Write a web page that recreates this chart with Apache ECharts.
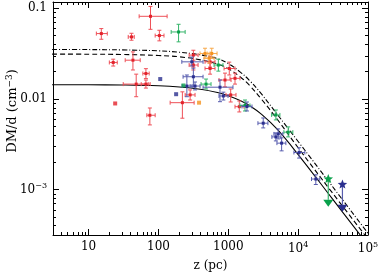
<!DOCTYPE html>
<html>
<head>
<meta charset="utf-8">
<script src="https://cdn.jsdelivr.net/npm/echarts@6/dist/echarts.min.js"></script>
<style>
html, body { margin: 0; padding: 0; background: #fff; }
#chart { width: 379px; height: 272px; }
</style>
</head>
<body>
<div id="chart"></div>
<script>
// rows: [z, zLo, zHi, dmd, dmdLo, dmdHi]  (z in pc, DM/d in cm^-3)
const redPts = [
    [15.2, 12.9, 18.5, 0.0527, 0.0456, 0.0598],
    [41.1, 36.9, 45.0, 0.0484, 0.0445, 0.0531],
    [76.9, 52.9, 133, 0.0817, 0.0587, 0.105],
    [103, 89.7, 120, 0.0501, 0.0438, 0.0573],
    [22.5, 19.8, 25.7, 0.0253, 0.0231, 0.0275],
    [43.1, 33.4, 54.8, 0.0268, 0.0209, 0.0331],
    [66.1, 59.8, 73.6, 0.0191, 0.0168, 0.0216],
    [48.0, 31.3, 71.3, 0.0146, 0.0106, 0.0188],
    [66.1, 56.6, 76.0, 0.0146, 0.0132, 0.0162],
    [220, 147, 324, 0.00911, 0.00614, 0.0120],
    [75.3, 68.2, 89.7, 0.00662, 0.00518, 0.00796],
    [284, 241, 334, 0.0111, 0.00975, 0.0126],
    [316, 275, 369, 0.0305, 0.0225, 0.0345],
    [316, 275, 369, 0.0237, 0.0209, 0.0268],
    [548, 464, 645, 0.0257, 0.0225, 0.0297],
    [548, 464, 645, 0.0217, 0.0188, 0.0249],
    [1033, 869, 1247, 0.0217, 0.0184, 0.0255],
    [897, 736, 1094, 0.0162, 0.0136, 0.0193],
    [1247, 1057, 1469, 0.0169, 0.0146, 0.0193],
    [1082, 927, 1288, 0.0111, 0.00927, 0.0129],
    [1436, 1247, 1675, 0.00823, 0.00720, 0.00951]
];
const orangePts = [
    [464, 394, 548, 0.0318, 0.0282, 0.0363],
    [579, 497, 690, 0.0318, 0.0282, 0.0363],
    [530, 450, 625, 0.0282, 0.0249, 0.0320]
];
const greenPts = [
    [194, 152, 241, 0.0549, 0.0427, 0.0667],
    [720, 625, 839, 0.0237, 0.0203, 0.0275],
    [480, 407, 566, 0.0146, 0.0129, 0.0166],
    [1733, 1469, 2042, 0.00849, 0.00738, 0.00975],
    [4797, 4169, 5480, 0.00667, 0.00588, 0.00757],
    [7197, 6247, 8395, 0.00431, 0.00382, 0.00492]
];
const bluePts = [
    [300, 216, 435, 0.0257, 0.0231, 0.0290],
    [316, 225, 435, 0.0176, 0.0136, 0.0219],
    [255, 218, 303, 0.0139, 0.0106, 0.0184],
    [334, 284, 394, 0.0139, 0.0126, 0.0154],
    [760, 435, 1166, 0.0135, 0.00934, 0.0162],
    [849, 736, 991, 0.0108, 0.00975, 0.0119],
    [1849, 1570, 2183, 0.00827, 0.00738, 0.00927],
    [3162, 2655, 3690, 0.00541, 0.00480, 0.00618],
    [5179, 4498, 6040, 0.00412, 0.00363, 0.00468],
    [5796, 4966, 6668, 0.00326, 0.00268, 0.00373],
    [4797, 4207, 5664, 0.00382, 0.00345, 0.00423],
    [10330, 8695, 12470, 0.00257, 0.00223, 0.00290],
    [17900, 15530, 20420, 0.00131, 0.00114, 0.00146]
];
// points without error bars: [z, dmd]
const redDots = [[24.0, 0.00893]];
const orangeDots = [[381, 0.00911]];
const greenDots = [[228, 0.0141]];
const blueDots = [[106, 0.0166], [179, 0.0113]];
// upper limits: [z, dmd star, dmd limit]
const greenLimits = [[26990, 0.00131, 0.000719]];
const blueLimits = [[43050, 0.00114, 0.000633]];

// model curves
const curveZ = [3, 10, 30, 100, 200, 400, 700, 1000, 1500, 2000, 3000, 5000, 10000, 30000, 100000];
const solidD = [0.01439, 0.01436, 0.01427, 0.01399, 0.01359, 0.01283, 0.01180, 0.01089, 0.00957, 0.00847, 0.00676, 0.00464, 0.00244, 0.000816, 0.000245];
const dashedD = [0.0313, 0.0312, 0.0310, 0.0302, 0.0292, 0.0270, 0.0243, 0.0216, 0.0174, 0.0142, 0.0099, 0.0060, 0.0029, 0.00095, 0.000285];
const dashDotD = [0.0352, 0.0351, 0.0348, 0.0340, 0.0328, 0.0307, 0.0279, 0.0246, 0.0197, 0.0161, 0.0113, 0.0068, 0.0034, 0.00112, 0.000330];

const xTickLabels = {1: '10', 2: '100', 3: '1000', 4: '10{s|4}', 5: '10{s|5}'};
const yTickLabels = {'-1': '0.1', '-2': '0.01', '-3': '10{s|−3}'};
const yTitle = 'DM/d (cm{s|−3})';

const X_MIN = 0.49, X_MAX = 5.0, Y_MIN = -3.5, Y_MAX = -0.93;

const lg = Math.log10;

function minorTicks(lo, hi, n0, n1) {
    let out = [];
    for (let n = n0; n <= n1; n++) {
        for (let k = 2; k <= 9; k++) {
            let v = n + lg(k);
            if (v > lo && v < hi) out.push(v);
        }
    }
    return out;
}
const xMajor = [1, 2, 3, 4, 5];
const yMajor = [-3, -2, -1];
const xMinor = minorTicks(X_MIN, X_MAX, 0, 4);
const yMinor = minorTicks(Y_MIN, Y_MAX, -4, -1);

const FONT = 'DejaVu Serif';
const rich = {s: {fontSize: 8, fontFamily: FONT, padding: [0, 0, 7, 0], color: '#000'}};

function axisBase(pos, major, isMajor, extra) {
    return Object.assign({
        type: 'value',
        position: pos,
        min: pos === 'top' || pos === 'bottom' ? X_MIN : Y_MIN,
        max: pos === 'top' || pos === 'bottom' ? X_MAX : Y_MAX,
        axisLine: {show: isMajor, onZero: false, lineStyle: {color: '#000', width: 1}},
        axisTick: {show: true, inside: true, length: isMajor ? 6 : 3, customValues: major, lineStyle: {color: '#000', width: 1}},
        axisLabel: {show: false},
        splitLine: {show: false}
    }, extra || {});
}

const logRows = rows => rows.map(r => r.map(lg));

function barRender(dot, bar) {
    return function (params, api) {
        const c = api.coord([api.value(0), api.value(3)]);
        const xl = api.coord([api.value(1), api.value(3)])[0];
        const xh = api.coord([api.value(2), api.value(3)])[0];
        const yl = api.coord([api.value(0), api.value(4)])[1];
        const yh = api.coord([api.value(0), api.value(5)])[1];
        const st = {stroke: bar, lineWidth: 1};
        const cap = 2;
        return {
            type: 'group',
            children: [
                {type: 'line', shape: {x1: xl, y1: c[1], x2: xh, y2: c[1]}, style: st},
                {type: 'line', shape: {x1: c[0], y1: yl, x2: c[0], y2: yh}, style: st},
                {type: 'line', shape: {x1: xl, y1: c[1] - cap, x2: xl, y2: c[1] + cap}, style: st},
                {type: 'line', shape: {x1: xh, y1: c[1] - cap, x2: xh, y2: c[1] + cap}, style: st},
                {type: 'line', shape: {x1: c[0] - cap, y1: yl, x2: c[0] + cap, y2: yl}, style: st},
                {type: 'line', shape: {x1: c[0] - cap, y1: yh, x2: c[0] + cap, y2: yh}, style: st},
                {type: 'rect', shape: {x: c[0] - 1.5, y: c[1] - 1.5, width: 3, height: 3}, style: {fill: dot}}
            ]
        };
    };
}

function starPoints(cx, cy, R, r) {
    let pts = [];
    for (let i = 0; i < 10; i++) {
        let a = -Math.PI / 2 + i * Math.PI / 5;
        let rad = i % 2 ? r : R;
        pts.push([cx + rad * Math.cos(a), cy + rad * Math.sin(a)]);
    }
    return pts;
}

function limitRender(color, bar) {
    return function (params, api) {
        const s = api.coord([api.value(0), api.value(1)]);
        const t = api.coord([api.value(0), api.value(2)]);
        return {
            type: 'group',
            children: [
                {type: 'line', shape: {x1: s[0], y1: s[1], x2: t[0], y2: t[1] - 3}, style: {stroke: bar, lineWidth: 1.2}},
                {type: 'polygon', shape: {points: [[t[0] - 5, t[1] - 3], [t[0] + 5, t[1] - 3], [t[0], t[1] + 4]]}, style: {fill: color}},
                {type: 'polygon', shape: {points: starPoints(s[0], s[1], 5, 2.2)}, style: {fill: color}}
            ]
        };
    };
}

function barSeries(rows, dot, bar) {
    return {type: 'custom', xAxisIndex: 0, yAxisIndex: 0, renderItem: barRender(dot, bar), data: logRows(rows), z: 5, silent: true};
}
function dotSeries(rows, color) {
    return {type: 'scatter', xAxisIndex: 0, yAxisIndex: 0, symbol: 'rect', symbolSize: 4, itemStyle: {color: color}, data: logRows(rows), z: 6, silent: true};
}
function limitSeries(rows, color, bar) {
    return {type: 'custom', xAxisIndex: 0, yAxisIndex: 0, renderItem: limitRender(color, bar), data: logRows(rows), z: 6, silent: true};
}
function curve(ys, type) {
    return {
        type: 'line', xAxisIndex: 0, yAxisIndex: 0, showSymbol: false, smooth: 0.4, z: 3, silent: true,
        lineStyle: {color: '#000', width: 1.1, type: type},
        data: curveZ.map((z, i) => [lg(z), lg(ys[i])])
    };
}

const RED = '#e3222b', RED_BAR = '#ee5058';
const GREEN = '#0aa14b', GREEN_BAR = '#35b56a';
const BLUE = '#2b2f8f', BLUE_BAR = '#585dae';
const ORANGE = '#f5921e', ORANGE_BAR = '#f7a94a';

const chart = echarts.init(document.getElementById('chart'));
chart.setOption({
    animation: false,
    backgroundColor: '#fff',
    grid: {left: 53, right: 11, top: 2, bottom: 37, outerBoundsMode: 'none'},
    graphic: [{
        type: 'text',
        x: 13, y: 111,
        rotation: Math.PI / 2,
        style: {
            text: yTitle,
            align: 'center', verticalAlign: 'middle',
            fontFamily: FONT, fontSize: 13, fill: '#000',
            rich: {s: {fontSize: 9, fontFamily: FONT, padding: [0, 0, 7, 0], fill: '#000'}}
        }
    }],
    xAxis: [
        axisBase('bottom', xMajor, true, {
            name: 'z (pc)', nameLocation: 'middle', nameGap: 25,
            nameTextStyle: {fontFamily: FONT, fontSize: 12, color: '#000'},
            axisLabel: {
                show: true, customValues: xMajor, margin: 6,
                fontFamily: FONT, fontSize: 12, color: '#000', rich: rich,
                formatter: v => xTickLabels[Math.round(v)] || ''
            }
        }),
        axisBase('bottom', xMinor, false),
        axisBase('top', xMajor, true),
        axisBase('top', xMinor, false)
    ],
    yAxis: [
        axisBase('left', yMajor, true, {
            axisLabel: {
                show: true, customValues: yMajor, margin: 6,
                fontFamily: FONT, fontSize: 12, color: '#000', rich: rich,
                formatter: v => yTickLabels[String(Math.round(v))] || ''
            }
        }),
        axisBase('left', yMinor, false),
        axisBase('right', yMajor, true),
        axisBase('right', yMinor, false)
    ],
    series: [
        curve(solidD, 'solid'),
        curve(dashedD, [5, 3]),
        curve(dashDotD, [5, 2, 1, 2]),
        barSeries(redPts, RED, RED_BAR),
        barSeries(orangePts, ORANGE, ORANGE_BAR),
        barSeries(greenPts, GREEN, GREEN_BAR),
        barSeries(bluePts, BLUE, BLUE_BAR),
        dotSeries(redDots, RED),
        dotSeries(orangeDots, ORANGE),
        dotSeries(greenDots, GREEN),
        dotSeries(blueDots, BLUE),
        limitSeries(greenLimits, GREEN, GREEN_BAR),
        limitSeries(blueLimits, BLUE, BLUE_BAR)
    ]
});
</script>
</body>
</html>
